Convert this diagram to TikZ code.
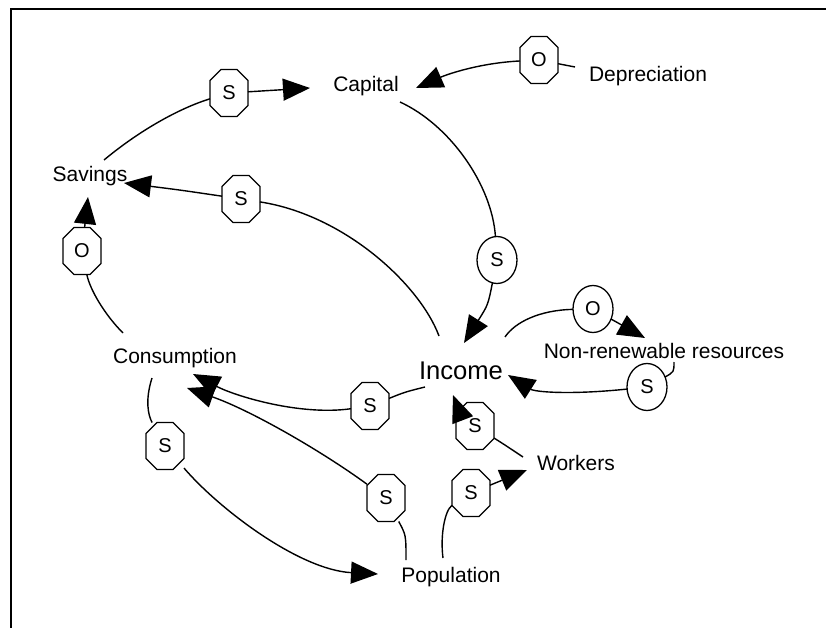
\documentclass[tikz,border=0pt]{standalone}
\usepackage{fontspec}
\setmainfont{Liberation Sans}
\usetikzlibrary{shapes.geometric,arrows.meta}
\newdimen\octxa \newdimen\octya \newdimen\octxb \newdimen\octyb \newdimen\octc
\makeatletter
\pgfdeclareshape{octagonbox}{%
  \inheritsavedanchors[from=rectangle]%
  \inheritanchorborder[from=rectangle]%
  \inheritanchor[from=rectangle]{center}%
  \inheritanchor[from=rectangle]{north}%
  \inheritanchor[from=rectangle]{south}%
  \inheritanchor[from=rectangle]{east}%
  \inheritanchor[from=rectangle]{west}%
  \backgroundpath{%
    \southwest \global\octxa=\pgf@x \global\octya=\pgf@y
    \northeast \global\octxb=\pgf@x \global\octyb=\pgf@y
    \global\octc=11pt
    \pgfpathmoveto{\pgfqpoint{\dimexpr\octxa+\octc\relax}{\octya}}%
    \pgfpathlineto{\pgfqpoint{\dimexpr\octxb-\octc\relax}{\octya}}%
    \pgfpathlineto{\pgfqpoint{\octxb}{\dimexpr\octya+\octc\relax}}%
    \pgfpathlineto{\pgfqpoint{\octxb}{\dimexpr\octyb-\octc\relax}}%
    \pgfpathlineto{\pgfqpoint{\dimexpr\octxb-\octc\relax}{\octyb}}%
    \pgfpathlineto{\pgfqpoint{\dimexpr\octxa+\octc\relax}{\octyb}}%
    \pgfpathlineto{\pgfqpoint{\octxa}{\dimexpr\octyb-\octc\relax}}%
    \pgfpathlineto{\pgfqpoint{\octxa}{\dimexpr\octya+\octc\relax}}%
    \pgfpathclose
  }%
}
\makeatother
\tikzset{
  lnk/.style={line width=1.4pt},
  arr/.style={line width=1.4pt,-{Triangle[length=27pt,width=22pt]}},
  oct/.style={shape=octagonbox,draw,line width=1.3pt,minimum width=38pt,minimum height=47pt,inner sep=0pt,outer sep=0pt,fill=white,font=\fontsize{20}{20}\selectfont},
  ell/.style={ellipse,draw,line width=1.3pt,minimum width=40pt,minimum height=47pt,inner sep=0pt,outer sep=0pt,fill=white,font=\fontsize{20}{20}\selectfont},
  lbl/.style={anchor=base,inner sep=0pt,font=\fontsize{21}{25}\selectfont},
  biglbl/.style={anchor=base,inner sep=0pt,font=\fontsize{25.6}{30}\selectfont}
}
\begin{document}
\begin{tikzpicture}[x=1pt,y=-1pt]
\useasboundingbox (0,0) rectangle (826,628);
\draw[line width=2pt] (11,628) -- (11,9) -- (826,9);
% text nodes
\node[lbl] (cap) at (366,92) {Capital};
\node[lbl] (dep) at (648,82) {Depreciation};
\node[lbl] (sav) at (90,182) {Savings};
\node[lbl] (con) at (175,363) {Consumption};
\node[biglbl] (inc) at (461,379) {Income};
\node[lbl] (nrr) at (664,358) {Non-renewable resources};
\node[lbl] (wor) at (576,470) {Workers};
\node[lbl] (pop) at (451,582) {Population};
% signs
\node[oct] (s1) at (229,93) {S};
\node[oct] (s2) at (539,60) {O};
\node[oct] (s3) at (241,199) {S};
\node[oct] (s4) at (82,251) {O};
\node[ell] (s5) at (497,260) {S};
\node[ell] (s6) at (593,309) {O};
\node[ell] (s7) at (647,387) {S};
\node[oct] (s8) at (370,406) {S};
\node[oct] (s9) at (475,426) {S};
\node[oct] (s10) at (471,493) {S};
\node[oct] (s11) at (386,498) {S};
\node[oct] (s12) at (165,446) {S};
% A Savings -> Capital
\draw[lnk] ([shift={(14,-22)}]sav.base) .. controls (140,130) and (180,108) .. (s1);
\draw[arr] (s1) -- ([shift={(-56,-4)}]cap.base);
% B Depreciation -> Capital
\draw[lnk] ([shift={(-73,-15)}]dep.base) -- (s2);
\draw[arr] (s2) .. controls (480,63) and (448,74) .. ([shift={(50,-4)}]cap.base);
% C Capital -> Income
\draw[lnk] ([shift={(34,10)}]cap.base) .. controls (450,125) and (492,185) .. (s5);
\draw[arr] (s5) .. controls (488,305) .. ([shift={(3,-36)}]inc.base);
% D Income -> Savings
\draw[lnk] ([shift={(-22,-43)}]inc.base) .. controls (420,285) and (345,215) .. (s3);
\draw[arr] (s3) .. controls (180,190) .. ([shift={(34,1)}]sav.base);
% E Consumption -> Savings
\draw[lnk] ([shift={(-52,-30)}]con.base) .. controls (105,315) and (90,290) .. (s4);
\draw[arr] (s4) -- ([shift={(-2,15)}]sav.base);
% F Income -> Non-renewable
\draw[lnk] ([shift={(44,-42)}]inc.base) .. controls (515,322) and (540,310) .. (s6);
\draw[arr] (s6) -- ([shift={(-19,-20)}]nrr.base);
% G Non-renewable -> Income
\draw[lnk] ([shift={(10,4)}]nrr.base) .. controls (674,372) .. (s7);
\draw[arr] (s7) .. controls (570,395) and (535,392) .. ([shift={(47,-4)}]inc.base);
% H Income -> Consumption
\draw[lnk] ([shift={(-36,8)}]inc.base) .. controls (405,392) .. (s8);
\draw[arr] (s8) .. controls (300,416) and (235,396) .. ([shift={(18,11)}]con.base);
% I Population -> Consumption
\draw[lnk] ([shift={(-45,-22)}]pop.base) .. controls (406,535) .. (s11);
\draw[arr] (s11) .. controls (320,450) and (250,410) .. ([shift={(12,25)}]con.base);
% J Consumption -> Population
\draw[lnk] ([shift={(-23,15)}]con.base) .. controls (145,400) and (148,415) .. (s12);
\draw[arr] (s12) .. controls (220,510) and (300,570) .. ([shift={(-73,-8)}]pop.base);
% K Workers -> Income
\draw[lnk] ([shift={(-53,-13)}]wor.base) .. controls (505,445) .. (s9);
\draw[arr] (s9) .. controls (458,408) .. ([shift={(-8,16)}]inc.base);
% L Population -> Workers
\draw[lnk] ([shift={(-8,-24)}]pop.base) .. controls (440,535) and (445,510) .. (s10);
\draw[arr] (s10) -- ([shift={(-49,0)}]wor.base);
\end{tikzpicture}
\end{document}
